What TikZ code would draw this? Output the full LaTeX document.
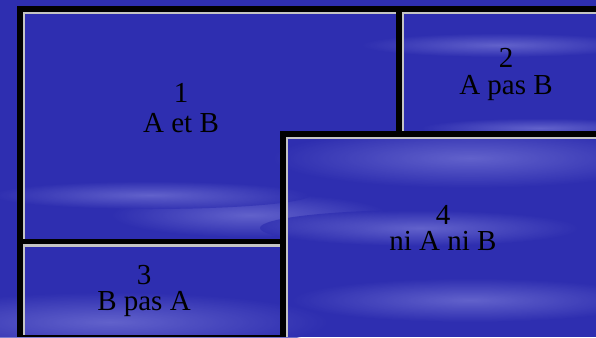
\documentclass[tikz,border=0pt]{standalone}
\usepackage{fontspec}
\setmainfont{Liberation Serif}
\definecolor{skyblue}{RGB}{46,46,176}
\definecolor{cloudc}{RGB}{120,120,215}
\definecolor{bevel}{RGB}{196,196,196}
\tikzset{
  frame/.style={fill=black, draw=none},
  bevelline/.style={fill=bevel, draw=none},
  cloud/.style={shading=radial, inner color=cloudc, outer color=skyblue, draw=none, opacity=0.7},
  panellabel/.style={anchor=base, inner sep=0pt, align=center, font=\fontsize{29}{26}\selectfont}
}
\begin{document}
\begin{tikzpicture}[x=1pt, y=-1pt]
\useasboundingbox (0,0) rectangle (596,337);
\fill[skyblue] (0,0) rectangle (596,337);
\begin{scope}
\clip (0,0) rectangle (596,337);
\shade[cloud] (470,158) ellipse (200 and 30);
\shade[cloud] (250,215) ellipse (140 and 22);
\shade[cloud] (420,228) ellipse (160 and 18);
\shade[cloud] (110,322) ellipse (220 and 30);
\shade[cloud] (500,45) ellipse (140 and 12);
\shade[cloud] (540,128) ellipse (120 and 10);
\shade[cloud] (150,195) ellipse (160 and 14);
\shade[cloud] (470,300) ellipse (180 and 22);
\end{scope}
% frame
\fill[frame] (17,6) rectangle (596,12);
\fill[frame] (17,6) rectangle (23,337);
\fill[frame] (396,6) rectangle (402,137);
\fill[frame] (280,131) rectangle (596,137);
\fill[frame] (280,131) rectangle (286,337);
\fill[frame] (17,239) rectangle (286,244);
\fill[frame] (17,335) rectangle (286,337);
% bevels
\fill[bevelline] (23,12) rectangle (396,14);
\fill[bevelline] (23,12) rectangle (25,239);
\fill[bevelline] (402,12) rectangle (596,14);
\fill[bevelline] (402,12) rectangle (404,131);
\fill[bevelline] (23,244) rectangle (280,247);
\fill[bevelline] (23,244) rectangle (25,335);
\fill[bevelline] (286,137) rectangle (596,139);
\fill[bevelline] (286,137) rectangle (288,337);
% labels
\node[panellabel] (p1) at (181,132) {1\\[4pt]A et B};
\node[panellabel] (p2) at (506,94) {2\\[1pt]A pas B};
\node[panellabel] (p3) at (144,310) {3\\B pas A};
\node[panellabel] (p4) at (443,250) {4\\ni A ni B};
\end{tikzpicture}
\end{document}
